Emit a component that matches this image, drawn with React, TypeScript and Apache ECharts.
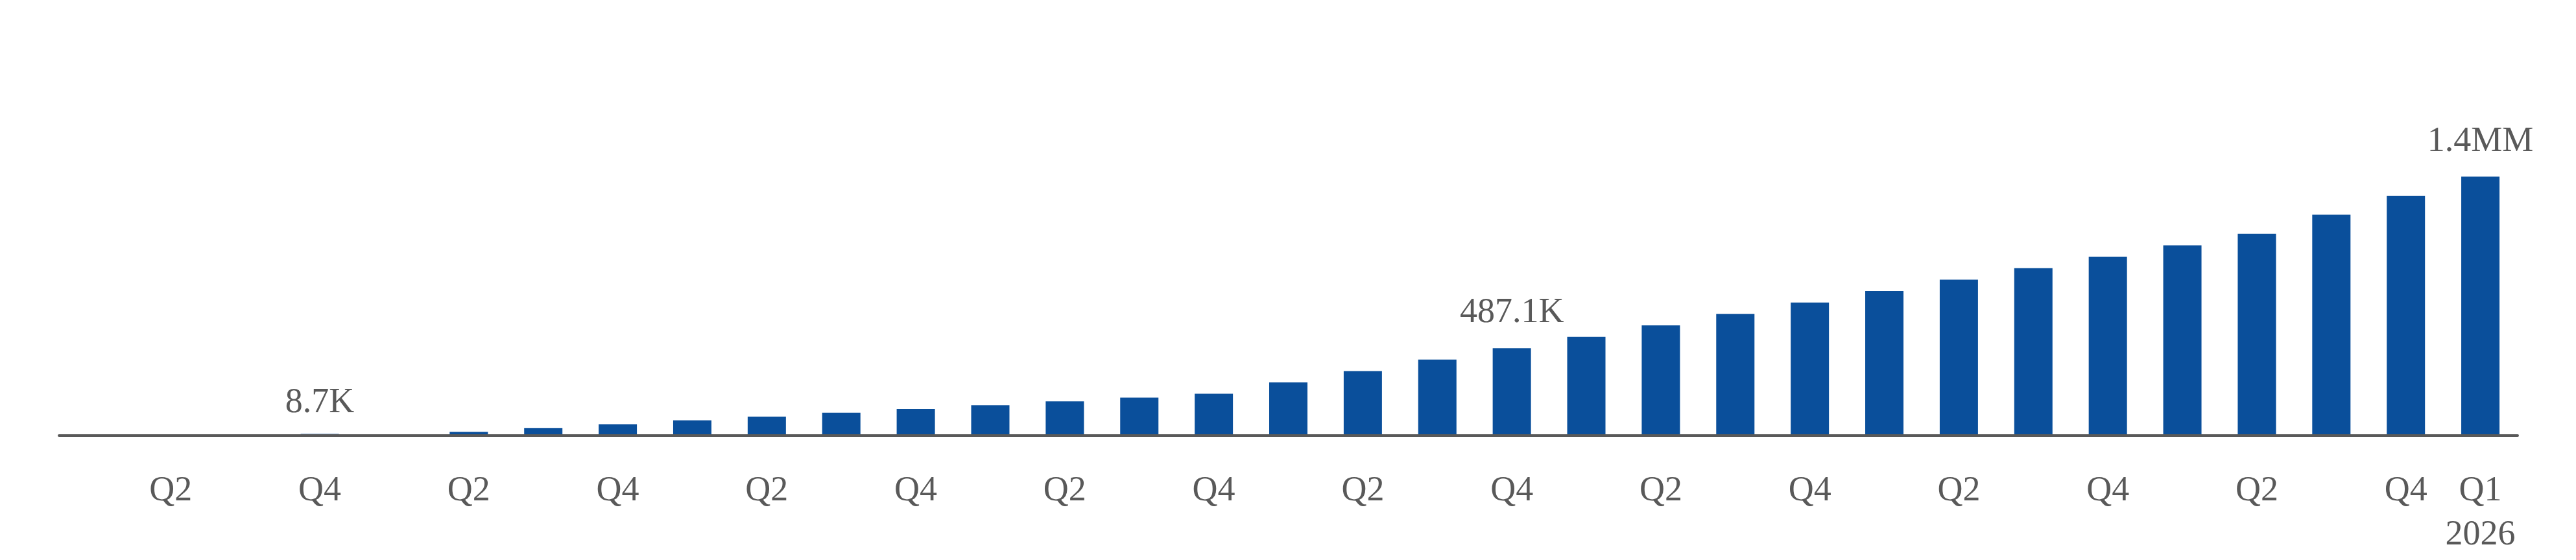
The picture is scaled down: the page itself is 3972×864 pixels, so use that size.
import { useEffect, useRef } from "react";
import * as echarts from "echarts";

// quarters from Q1 2018 to Q1 2026
const categories = [
  "Q1 2018", "Q2 2018", "Q3 2018", "Q4 2018",
  "Q1 2019", "Q2 2019", "Q3 2019", "Q4 2019",
  "Q1 2020", "Q2 2020", "Q3 2020", "Q4 2020",
  "Q1 2021", "Q2 2021", "Q3 2021", "Q4 2021",
  "Q1 2022", "Q2 2022", "Q3 2022", "Q4 2022",
  "Q1 2023", "Q2 2023", "Q3 2023", "Q4 2023",
  "Q1 2024", "Q2 2024", "Q3 2024", "Q4 2024",
  "Q1 2025", "Q2 2025", "Q3 2025", "Q4 2025",
  "Q1 2026",
];

const values: (number | null)[] = [
  null, null, null, 8700,
  null, 21200, 42400, 63500,
  84700, 105900, 127100, 148300,
  169400, 190600, 211800, 233000,
  296500, 360000, 423600, 487100,
  551000, 614800, 678600, 742500,
  806300, 870200, 934000, 997900,
  1061700, 1125500, 1232000, 1338300,
  1444800,
];

// bars that carry a value label
const calloutIndex = [3, 19, 32];
const calloutText = ["8.7K", "487.1K", "1.4MM"];
const calloutDistance = [25, 31, 31];

const textColor = "#595959";
const barColor = "#0A4F9B";
const fontFamily = "'Liberation Serif', 'Times New Roman', serif";

const App = () => {
  const chartRef = useRef<HTMLDivElement>(null);

  useEffect(() => {
    if (!chartRef.current) return;
    const chart = echarts.init(chartRef.current, undefined, { renderer: "svg" });

    const lastIndex = categories.length - 1;

    const seriesData = values.map((v, i) => {
      const k = calloutIndex.indexOf(i);
      if (k < 0) return v;
      return {
        value: v,
        label: {
          show: true,
          position: "top",
          distance: calloutDistance[k],
          formatter: calloutText[k],
          color: textColor,
          fontFamily,
          fontSize: 54,
          lineHeight: 54,
        },
      };
    });

    const option: echarts.EChartsOption = {
      animation: false,
      grid: {
        left: 83,
        right: 82,
        top: 111,
        bottom: 169,
        containLabel: false,
      },
      xAxis: {
        type: "category",
        data: categories,
        z: 3, // axis line drawn over the bar feet
        axisTick: { show: false },
        axisLine: {
          lineStyle: { color: textColor, width: 4 },
        },
        axisLabel: {
          interval: (index: number) => index % 2 === 1 || index === lastIndex,
          formatter: (value: string, index: number) => {
            const [q, year] = value.split(" ");
            return index === lastIndex ? `${q}\n${year}` : q;
          },
          color: textColor,
          fontFamily,
          fontSize: 54,
          lineHeight: 68,
          margin: 48,
        },
      },
      yAxis: {
        type: "value",
        min: 0,
        max: 2000000,
        show: false,
        splitLine: { show: false },
      },
      series: [
        {
          type: "bar",
          data: seriesData as any,
          barWidth: 59,
          itemStyle: { color: barColor },
        },
      ],
    };

    chart.setOption(option);

    return () => {
      chart.dispose();
    };
  }, []);

  return <div ref={chartRef} style={{ width: "3956px", height: "848px" }} />;
};

export default App;
